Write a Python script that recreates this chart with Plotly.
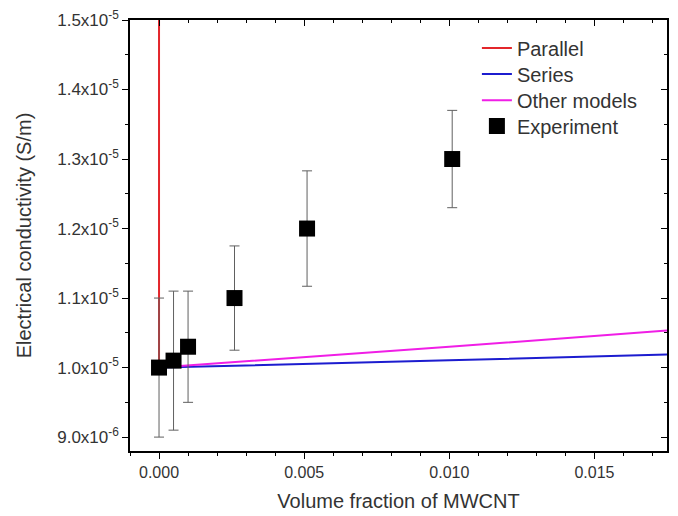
import plotly.graph_objects as go

# ---- data ----
exp_x = [0.0, 0.0005, 0.001, 0.0026, 0.0051, 0.0101]
exp_y = [1.00e-5, 1.01e-5, 1.03e-5, 1.10e-5, 1.20e-5, 1.30e-5]
exp_err = [1.0e-6, 1.0e-6, 0.8e-6, 0.75e-6, 0.83e-6, 0.7e-6]

parallel_x = [0.0, 0.0]
parallel_y = [1.0e-5, 1.6e-5]

series_x = [0.0, 0.005, 0.010, 0.0175]
series_y = [1.000e-5, 1.005e-5, 1.0105e-5, 1.0187e-5]

other_x = [0.0, 0.005, 0.010, 0.0175]
other_y = [1.000e-5, 1.0145e-5, 1.030e-5, 1.0532e-5]

y_tickvals = [9.0e-6, 1.0e-5, 1.1e-5, 1.2e-5, 1.3e-5, 1.4e-5, 1.5e-5]
y_ticktext = ["9.0x10<sup>-6</sup>", "1.0x10<sup>-5</sup>", "1.1x10<sup>-5</sup>",
              "1.2x10<sup>-5</sup>", "1.3x10<sup>-5</sup>", "1.4x10<sup>-5</sup>",
              "1.5x10<sup>-5</sup>"]
x_tickvals = [0.0, 0.005, 0.010, 0.015]
x_ticktext = ["0.000", "0.005", "0.010", "0.015"]

x_range = [-0.001, 0.0175]
y_range = [8.8e-6, 1.5e-5]

FONT = "Liberation Sans, Arial, sans-serif"
TXT = "#333333"

fig = go.Figure()
fig.add_trace(go.Scatter(x=parallel_x, y=parallel_y, mode="lines", name="Parallel",
                         line=dict(color="#e3262b", width=2), legend="legend"))
fig.add_trace(go.Scatter(x=series_x, y=series_y, mode="lines", name="Series",
                         line=dict(color="#1c1ccf", width=2), legend="legend2"))
fig.add_trace(go.Scatter(x=other_x, y=other_y, mode="lines", name="Other models",
                         line=dict(color="#f01ee6", width=2), legend="legend3"))
fig.add_trace(go.Scatter(x=exp_x, y=exp_y, mode="markers", name="Experiment",
                         marker=dict(symbol="square", size=16, color="black"),
                         error_y=dict(type="data", array=exp_err, visible=True,
                                      color="#606060", thickness=1, width=5),
                         legend="legend4"))

axis_common = dict(showline=True, linecolor="black", linewidth=1.5, showgrid=False,
                   zeroline=False, ticks="outside", ticklen=6, tickwidth=1.2,
                   tickcolor="black", automargin=False, ticklabeloverflow="allow")

def legend_at(yc):
    return dict(x=0.646, y=yc, xanchor="left", yanchor="middle",
                bgcolor="rgba(0,0,0,0)", font=dict(size=20, color=TXT, family=FONT),
                itemwidth=30)

fig.update_layout(
    width=670, height=508,
    margin=dict(l=122, r=11, t=12, b=65, autoexpand=False),
    paper_bgcolor="white", plot_bgcolor="white",
    font=dict(family=FONT, color=TXT),
    xaxis=dict(range=x_range, tickvals=x_tickvals, ticktext=x_ticktext,
               tickfont=dict(size=16, color=TXT, family=FONT),
               minor=dict(dtick=0.001, tick0=0, ticks="outside", ticklen=3,
                          tickcolor="black", tickwidth=1.2),
               title=dict(text="Volume fraction of MWCNT", font=dict(size=20, color=TXT),
                          standoff=14),
               **axis_common),
    yaxis=dict(range=y_range, tickvals=y_tickvals, ticktext=y_ticktext,
               tickfont=dict(size=17, color=TXT, family=FONT),
               minor=dict(dtick=0.5e-6, tick0=0, ticks="outside", ticklen=3,
                          tickcolor="black", tickwidth=1.2),
               title=dict(text="Electrical conductivity (S/m)", font=dict(size=20, color=TXT),
                          standoff=20),
               **axis_common),
    xaxis2=dict(overlaying="x", side="top", matches="x", showline=True, linecolor="black",
                linewidth=1.5, ticks="inside", ticklen=6, tickwidth=1.2, tickcolor="black",
                tickvals=x_tickvals, showticklabels=False, showgrid=False, zeroline=False,
                minor=dict(dtick=0.001, tick0=0, ticks="inside", ticklen=3,
                           tickcolor="black", tickwidth=1.2)),
    yaxis2=dict(overlaying="y", side="right", matches="y", showline=True, linecolor="black",
                linewidth=1.5, ticks="inside", ticklen=6, tickwidth=1.2, tickcolor="black",
                tickvals=y_tickvals, showticklabels=False, showgrid=False, zeroline=False,
                minor=dict(dtick=0.5e-6, tick0=0, ticks="inside", ticklen=3,
                           tickcolor="black", tickwidth=1.2)),
    legend=legend_at(0.935),
    legend2=legend_at(0.875),
    legend3=legend_at(0.814),
    legend4=legend_at(0.754),
    showlegend=True,
)
# invisible trace to activate the mirror axes
fig.add_trace(go.Scatter(x=[x_range[0]], y=[y_range[0]], xaxis="x2", yaxis="y2",
                         mode="markers", marker=dict(opacity=0), showlegend=False,
                         hoverinfo="skip"))

fig.write_html("out.html")
